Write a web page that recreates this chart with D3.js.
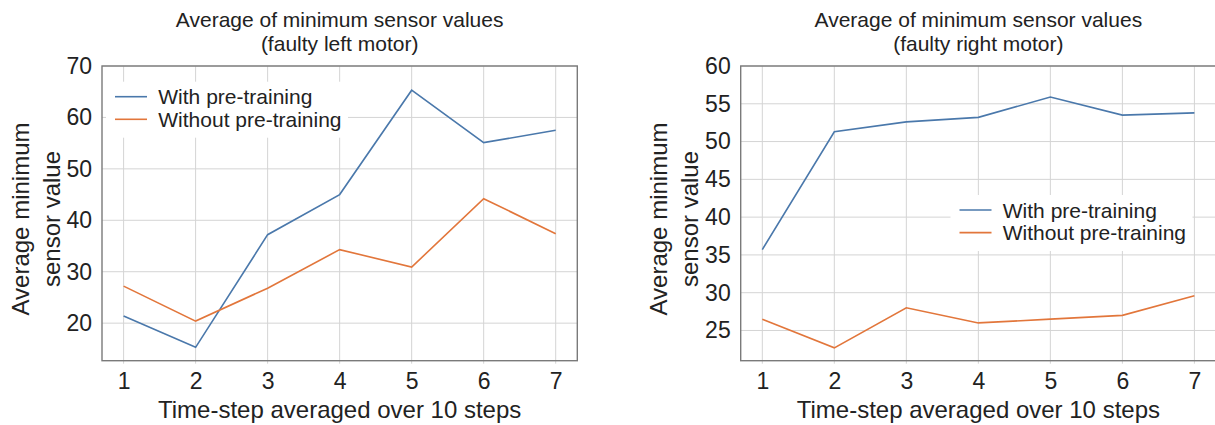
<!DOCTYPE html>
<html>
<head>
<meta charset="utf-8">
<script src="https://cdn.jsdelivr.net/npm/d3@7"></script>
<style>
  html, body { margin: 0; padding: 0; background: #fff; }
  svg { display: block; font-family: "Liberation Sans", Arial, Helvetica, sans-serif; }
</style>
</head>
<body>
<div id="chart"></div>
<script>
// time steps (each averaged over 10 steps)
const steps = [1, 2, 3, 4, 5, 6, 7];

// faulty left motor
const leftWith = [21.4, 15.3, 37.2, 45.0, 65.3, 55.1, 57.5];
const leftWithout = [27.2, 20.4, 26.8, 34.3, 30.9, 44.2, 37.4];
const leftTicks = [20, 30, 40, 50, 60, 70];

// faulty right motor
const rightWith = [35.7, 51.3, 52.6, 53.2, 55.9, 53.5, 53.8];
const rightWithout = [26.5, 22.7, 28.0, 26.0, 26.5, 27.0, 29.6];
const rightTicks = [25, 30, 35, 40, 45, 50, 55, 60];

const seriesNames = ['With pre-training', 'Without pre-training'];
const colors = ['#4a78ab', '#e2763b'];

const width = 1215, height = 425;
const plotW = 475.3, plotH = 294.7, plotTop = 66;

const svg = d3.select('#chart').append('svg')
  .attr('width', width)
  .attr('height', height);

function drawPanel(cfg) {
  const g = svg.append('g')
    .attr('transform', `translate(${cfg.left}, ${plotTop})`);

  const x = d3.scaleLinear().domain([0.7, 7.3]).range([0, plotW]);
  const y = d3.scaleLinear().domain(cfg.yDomain).range([plotH, 0]);

  // grid
  g.append('g')
    .selectAll('line')
    .data(steps)
    .join('line')
    .attr('x1', d => x(d)).attr('x2', d => x(d))
    .attr('y1', 0).attr('y2', plotH + 3)
    .attr('stroke', '#d4d4d4')
    .attr('stroke-width', 1);

  g.append('g')
    .selectAll('line')
    .data(cfg.yTicks)
    .join('line')
    .attr('x1', 0).attr('x2', plotW)
    .attr('y1', d => y(d)).attr('y2', d => y(d))
    .attr('stroke', '#d4d4d4')
    .attr('stroke-width', 1);

  // legend background hides the grid behind it
  g.append('rect')
    .attr('x', cfg.legend[0] - 9)
    .attr('y', cfg.legend[1] - 15)
    .attr('width', 242)
    .attr('height', 56)
    .attr('fill', '#fff');

  // axes
  const xAxis = g.append('g')
    .attr('transform', `translate(0, ${plotH})`)
    .call(d3.axisBottom(x).tickValues(steps).tickFormat(d3.format('d')).tickSize(0).tickPadding(12));
  const yAxis = g.append('g')
    .call(d3.axisLeft(y).tickValues(cfg.yTicks).tickFormat(d3.format('d')).tickSize(0).tickPadding(10));

  [xAxis, yAxis].forEach(a => {
    a.select('.domain').remove();
    a.selectAll('text')
      .attr('font-size', 23)
      .attr('font-family', '"Liberation Sans", Arial, sans-serif')
      .attr('fill', '#222');
  });

  // frame
  g.append('rect')
    .attr('width', plotW)
    .attr('height', plotH)
    .attr('fill', 'none')
    .attr('stroke', '#7a7a7a')
    .attr('stroke-width', 1.4);

  // lines
  const line = d3.line()
    .x((d, i) => x(steps[i]))
    .y(d => y(d));

  cfg.series.forEach((s, i) => {
    g.append('path')
      .datum(s)
      .attr('d', line)
      .attr('fill', 'none')
      .attr('stroke', colors[i])
      .attr('stroke-width', 1.6);
  });

  // legend
  const lg = g.append('g')
    .attr('transform', `translate(${cfg.legend[0]}, ${cfg.legend[1]})`);
  seriesNames.forEach((name, i) => {
    const row = lg.append('g').attr('transform', `translate(0, ${i * 22.6})`);
    row.append('line')
      .attr('x1', 0).attr('x2', 32)
      .attr('stroke', colors[i])
      .attr('stroke-width', 1.6);
    row.append('text')
      .attr('x', 43.3)
      .attr('y', 7.6)
      .attr('font-size', 21)
      .attr('fill', '#222')
      .text(name);
  });

  // title
  const title = g.append('text')
    .attr('text-anchor', 'middle')
    .attr('font-size', 21)
    .attr('fill', '#222');
  cfg.title.forEach((t, i) => {
    title.append('tspan')
      .attr('x', plotW / 2)
      .attr('y', -39.5 + i * 24)
      .text(t);
  });

  // x label
  g.append('text')
    .attr('x', plotW / 2)
    .attr('y', plotH + 57.5)
    .attr('text-anchor', 'middle')
    .attr('font-size', 24)
    .attr('fill', '#222')
    .text('Time-step averaged over 10 steps');

  // y label (two lines)
  const yl = g.append('text')
    .attr('transform', `translate(0, 153) rotate(-90)`)
    .attr('text-anchor', 'middle')
    .attr('font-size', 24)
    .attr('fill', '#222');
  ['Average minimum', 'sensor value'].forEach((t, i) => {
    yl.append('tspan')
      .attr('x', 0)
      .attr('y', -73.5 + i * 31)
      .text(t);
  });
}

drawPanel({
  left: 102,
  yDomain: [12.7, 70],
  yTicks: leftTicks,
  series: [leftWith, leftWithout],
  legend: [13, 30.7],
  title: ['Average of minimum sensor values', '(faulty left motor)']
});

drawPanel({
  left: 740.7,
  yDomain: [21, 60],
  yTicks: rightTicks,
  series: [rightWith, rightWithout],
  legend: [218.8, 144],
  title: ['Average of minimum sensor values', '(faulty right motor)']
});
</script>
</body>
</html>
